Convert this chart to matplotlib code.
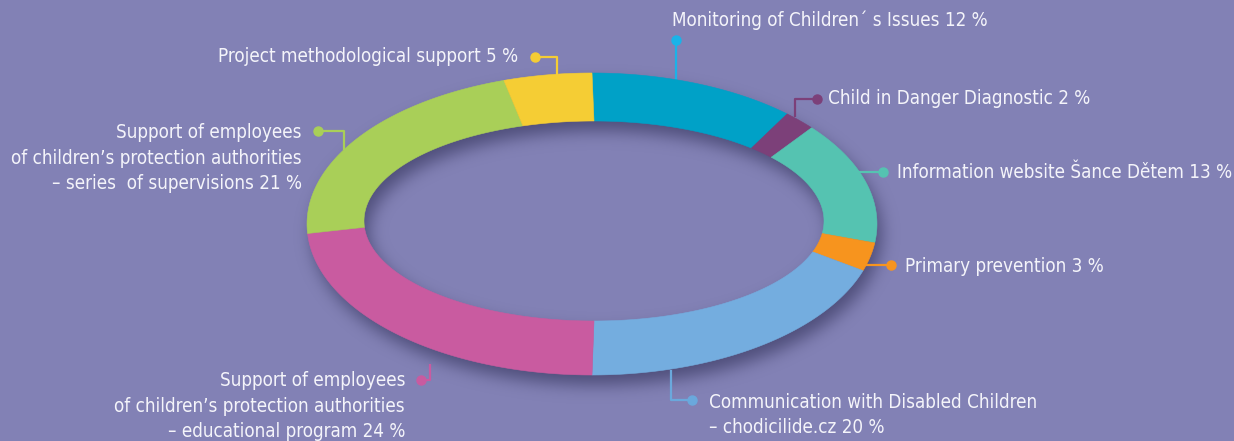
#!/usr/bin/env python3
import numpy as np
import matplotlib
matplotlib.use("Agg")
import matplotlib.pyplot as plt
from matplotlib.patches import Polygon

# -----------------------------
# Data
# -----------------------------
names = [
    "Monitoring of Children\u00b4 s Issues",
    "Child in Danger Diagnostic",
    "Information website \u0160ance D\u011btem",
    "Primary prevention",
    "Communication with Disabled Children\n\u2013 chodicilide.cz",
    "Support of employees\nof children\u2019s protection authorities\n\u2013 educational program",
    "Support of employees\nof children\u2019s protection authorities\n\u2013 series  of supervisions",
    "Project methodological support",
]
shares = [12, 2, 13, 3, 20, 24, 21, 5]
colors = ["#00a1c7", "#7c4079", "#55c3b1", "#f7941e",
          "#74addf", "#c95ba0", "#a9cf58", "#f5cd34"]
line_colors = ["#1ab3e8", "#7c4079", "#55c3b1", "#f7941e",
               "#6aa8dc", "#c95ba0", "#a9cf58", "#f5cd34"]

# -----------------------------
# Layout (pixel coords, y down)
# -----------------------------
W, H = 1234, 441
BG = "#8281b5"
OUT_C, OUT_A, OUT_B = (592, 224), 285, 151
IN_C, IN_A, IN_B = (594, 221), 230, 100

# text x, text y, ha, leader path (dot first)
label_layout = [
    (672, 20, "left", [(676, 40), (676, 80)]),
    (828, 99, "left", [(817, 99), (795, 99), (795, 117)]),
    (897, 172, "left", [(883, 172), (858, 172)]),
    (905, 266, "left", [(891, 265), (864, 265)]),
    (709, 415, "left", [(692, 400), (671, 400), (671, 370)]),
    (405, 406, "right", [(421, 380), (430, 380), (430, 364)]),
    (302, 158, "right", [(318, 131), (344, 131), (344, 150)]),
    (518, 56, "right", [(535, 57), (557, 57), (557, 75)]),
]


def ring_points(t0, t1, n=120):
    t = np.linspace(t0, t1, n)
    ox = OUT_C[0] + OUT_A * np.sin(t)
    oy = OUT_C[1] - OUT_B * np.cos(t)
    ix = IN_C[0] + IN_A * np.sin(t[::-1])
    iy = IN_C[1] - IN_B * np.cos(t[::-1])
    return np.column_stack([np.r_[ox, ix], np.r_[oy, iy]])


def blur(img, sigma):
    r = int(3 * sigma)
    k = np.exp(-0.5 * (np.arange(-r, r + 1) / sigma) ** 2)
    k /= k.sum()
    img = np.apply_along_axis(lambda v: np.convolve(v, k, mode="same"), 0, img)
    img = np.apply_along_axis(lambda v: np.convolve(v, k, mode="same"), 1, img)
    return img


fig = plt.figure(figsize=(W / 100, H / 100), dpi=100)
fig.patch.set_facecolor(BG)
ax = fig.add_axes([0, 0, 1, 1])
ax.set_facecolor(BG)
ax.set_xlim(0, W)
ax.set_ylim(H, 0)
ax.axis("off")

# drop shadow of the ring
yy, xx = np.mgrid[0:H, 0:W] + 0.5
dx, dy = 5, 10
outer = ((xx - OUT_C[0] - dx) / OUT_A) ** 2 + ((yy - OUT_C[1] - dy) / OUT_B) ** 2 <= 1
inner = ((xx - IN_C[0] - dx) / IN_A) ** 2 + ((yy - IN_C[1] - dy) / IN_B) ** 2 <= 1
mask = (outer & ~inner).astype(float)
sh = blur(mask, 8) * 0.6
rgba = np.zeros((H, W, 4))
rgba[..., 0] = 0.18
rgba[..., 1] = 0.18
rgba[..., 2] = 0.33
rgba[..., 3] = sh
ax.imshow(rgba, extent=[0, W, H, 0], zorder=1, interpolation="bilinear")

# ring segments
total = float(sum(shares))
cum = np.cumsum([0] + shares) / total * 2 * np.pi
for i, c in enumerate(colors):
    ax.add_patch(Polygon(ring_points(cum[i], cum[i + 1]), closed=True,
                         facecolor=c, edgecolor=c, linewidth=0.4, zorder=3))

# leader lines and labels
for name, val, lc, (tx, ty, ha, path) in zip(names, shares, line_colors, label_layout):
    px = [p[0] for p in path]
    py = [p[1] for p in path]
    ax.plot(px, py, color=lc, linewidth=1.6, zorder=2, solid_capstyle="butt")
    ax.plot(px[0], py[0], "o", color=lc, markersize=6.5, zorder=4)
    ax.text(tx, ty, f"{name} {val} %", ha=ha, va="center", color="#f4f4fa",
            fontsize=13.5, family="DejaVu Sans", stretch="condensed",
            linespacing=1.45, zorder=5, multialignment=ha)

fig.savefig("out.png", dpi=100, facecolor=BG)
